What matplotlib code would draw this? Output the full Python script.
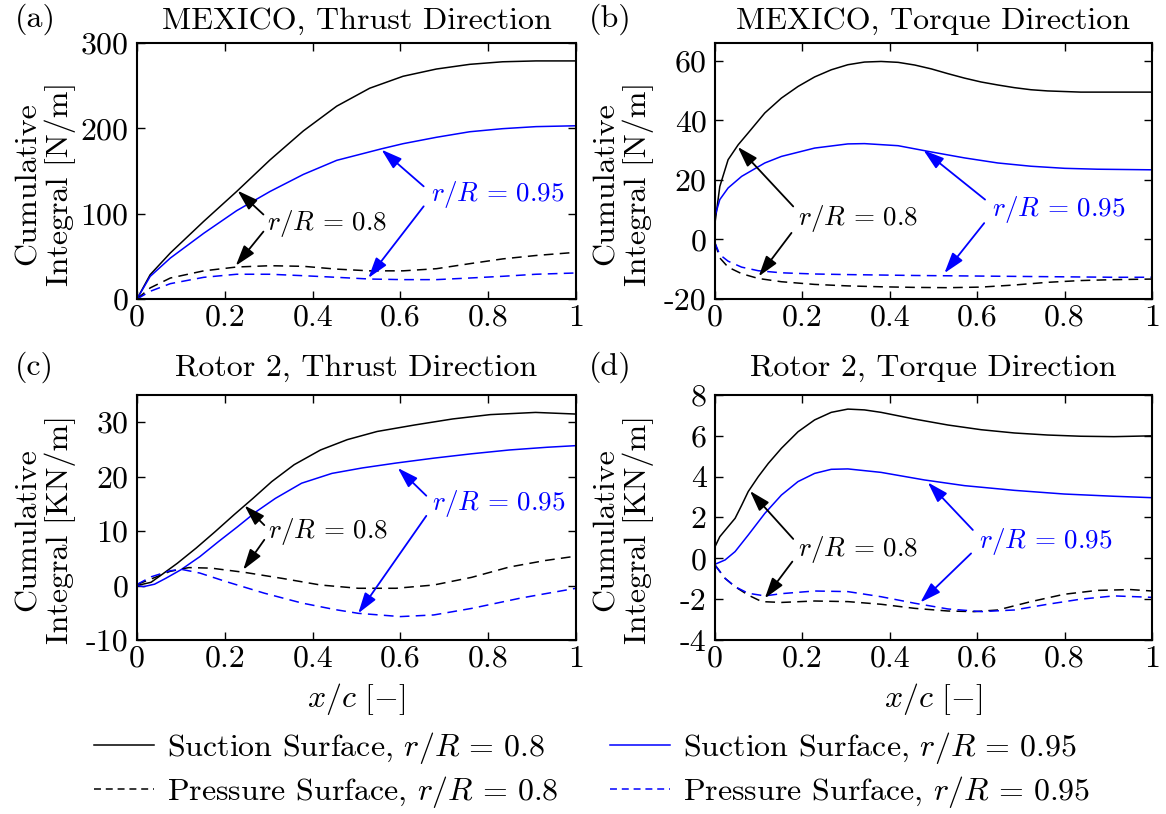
import matplotlib
matplotlib.use("Agg")
import matplotlib.pyplot as plt
from matplotlib.lines import Line2D

plt.rcParams["font.family"] = "serif"
plt.rcParams["font.serif"] = ["cmr10"]
plt.rcParams["mathtext.fontset"] = "cm"
plt.rcParams["axes.unicode_minus"] = False
plt.rcParams["lines.scale_dashes"] = False

# ---------------- data ----------------
# (a) MEXICO, thrust direction [N/m]
a_x_ss08 = [0, 0.03, 0.076, 0.152, 0.227, 0.303, 0.379, 0.455, 0.53, 0.606, 0.682, 0.758, 0.833, 0.909, 1.0]
a_ss08 = [0, 28.5, 54, 91, 126, 163, 197, 226, 247, 261, 269.5, 275, 278, 279, 279]
a_x_ss095 = [0, 0.03, 0.076, 0.152, 0.227, 0.303, 0.379, 0.455, 0.557, 0.606, 0.682, 0.758, 0.833, 0.909, 1.0]
a_ss095 = [0, 26.5, 48, 77, 103.5, 126, 146, 162.5, 176, 182, 189.5, 196, 199.6, 202, 203]
a_x_ps08 = [0, 0.03, 0.076, 0.152, 0.227, 0.303, 0.379, 0.455, 0.53, 0.606, 0.682, 0.758, 0.833, 0.909, 1.0]
a_ps08 = [0, 13, 24.6, 33, 37.5, 39, 38.3, 35, 33, 33, 35.5, 41.4, 47, 51, 54.7]
a_x_ps095 = [0, 0.03, 0.076, 0.152, 0.227, 0.303, 0.379, 0.455, 0.53, 0.606, 0.682, 0.758, 0.833, 0.909, 1.0]
a_ps095 = [0, 9, 18, 25.4, 29, 29, 27.3, 25.4, 23.4, 22.7, 22.7, 24.6, 26.6, 29, 30.5]

# (b) MEXICO, torque direction [N/m]
b_x_ss08 = [0, 0.011, 0.03, 0.053, 0.076, 0.114, 0.152, 0.19, 0.228, 0.266, 0.304, 0.342, 0.38,
            0.419, 0.457, 0.495, 0.533, 0.571, 0.609, 0.647, 0.685, 0.723, 0.761, 0.837, 0.913, 1.0]
b_ss08 = [5.6, 17.8, 26.8, 31.8, 35.8, 42.5, 47.5, 51.4, 54.6, 57, 58.7, 59.6, 59.8,
          59.5, 58.6, 57.3, 55.7, 54.2, 52.9, 51.9, 51, 50.3, 49.9, 49.5, 49.5, 49.5]
b_x_ss095 = [0, 0.011, 0.03, 0.061, 0.114, 0.152, 0.228, 0.304, 0.342, 0.419, 0.495, 0.571, 0.647, 0.723, 0.8, 0.875, 1.0]
b_ss095 = [7.8, 13.4, 17.3, 21.2, 25.7, 27.9, 30.7, 32.1, 32.2, 31.5, 29.4, 27.4, 25.7, 24.6, 23.9, 23.6, 23.4]
b_x_ps08 = [0, 0.011, 0.03, 0.061, 0.099, 0.152, 0.228, 0.304, 0.38, 0.457, 0.533, 0.609, 0.685, 0.761, 0.837, 0.913, 1.0]
b_ps08 = [-1.2, -6.2, -9.3, -11.5, -13.1, -14.2, -15.1, -15.6, -15.9, -16.1, -16.2, -16, -15.3, -14.4, -13.8, -13.5, -13.3]
b_x_ps095 = [0, 0.011, 0.03, 0.061, 0.099, 0.152, 0.228, 0.304, 0.457, 0.609, 0.761, 0.913, 1.0]
b_ps095 = [-1.2, -5.1, -7.3, -9.3, -10.5, -11.2, -11.6, -11.8, -12.1, -12.3, -12.5, -12.7, -12.7]

# (c) Rotor 2, thrust direction [KN/m]
c_x_ss08 = [0, 0.032, 0.058, 0.092, 0.135, 0.178, 0.221, 0.264, 0.307, 0.358, 0.418, 0.479, 0.547,
            0.633, 0.719, 0.805, 0.908, 1.0]
c_ss08 = [0, 0.6, 2.1, 4.1, 6.9, 9.9, 13, 16, 19.1, 22.2, 24.9, 26.8, 28.3, 29.5, 30.6, 31.4, 31.8, 31.5]
c_x_ss095 = [0, 0.015, 0.04, 0.066, 0.1, 0.143, 0.186, 0.229, 0.272, 0.315, 0.375, 0.444, 0.513,
             0.59, 0.676, 0.762, 0.848, 0.934, 1.0]
c_ss095 = [0, -0.2, 0.25, 1.35, 2.9, 5.3, 8.1, 10.8, 13.6, 16, 18.8, 20.6, 21.6, 22.5, 23.4, 24.2, 24.9, 25.4, 25.7]
c_x_ps08 = [0, 0.032, 0.075, 0.118, 0.169, 0.247, 0.332, 0.418, 0.504, 0.59, 0.676, 0.762, 0.848, 0.93, 1.0]
c_ps08 = [0.2, 1.2, 2.6, 3.3, 3.2, 2.4, 1.3, 0.1, -0.5, -0.5, 0.1, 1.5, 3.4, 4.6, 5.4]
c_x_ps095 = [0, 0.032, 0.075, 0.1, 0.143, 0.204, 0.29, 0.375, 0.45, 0.504, 0.6, 0.676, 0.762, 0.874, 1.0]
c_ps095 = [0.2, 1.6, 2.7, 3.0, 2.3, 0.7, -1.4, -3.2, -4.4, -5.1, -5.7, -5.4, -4.2, -2.3, -0.5]

# (d) Rotor 2, torque direction [KN/m]
d_x_ss08 = [0, 0.011, 0.03, 0.046, 0.061, 0.076, 0.099, 0.122, 0.152, 0.19, 0.228, 0.266, 0.304, 0.342,
            0.38, 0.457, 0.533, 0.609, 0.685, 0.761, 0.837, 0.913, 1.0]
d_ss08 = [0.57, 1.06, 1.55, 1.96, 2.6, 3.27, 4.0, 4.65, 5.39, 6.2, 6.78, 7.15, 7.31, 7.27,
          7.15, 6.82, 6.53, 6.3, 6.14, 6.04, 5.98, 5.96, 6.0]
d_x_ss095 = [0, 0.023, 0.046, 0.076, 0.114, 0.152, 0.19, 0.228, 0.266, 0.304, 0.38, 0.479, 0.571, 0.685, 0.799, 0.913, 1.0]
d_ss095 = [-0.29, -0.08, 0.33, 1.14, 2.2, 3.1, 3.76, 4.16, 4.36, 4.38, 4.21, 3.84, 3.56, 3.33, 3.15, 3.04, 2.97]
d_x_ps08 = [0, 0.023, 0.046, 0.076, 0.107, 0.152, 0.228, 0.304, 0.38, 0.457, 0.533, 0.594, 0.647, 0.723,
            0.799, 0.875, 0.951, 1.0]
d_ps08 = [-0.33, -0.98, -1.39, -1.8, -2.12, -2.16, -2.09, -2.12, -2.25, -2.45, -2.58, -2.61, -2.53, -2.12,
          -1.76, -1.57, -1.53, -1.6]
d_x_ps095 = [0, 0.023, 0.046, 0.076, 0.114, 0.152, 0.228, 0.304, 0.38, 0.457, 0.533, 0.609, 0.685, 0.761,
             0.837, 0.913, 1.0]
d_ps095 = [-0.33, -0.98, -1.39, -1.71, -1.84, -1.73, -1.6, -1.63, -1.88, -2.2, -2.48, -2.61, -2.53, -2.25,
           -2.0, -1.84, -1.91]

x_ticks = [0, 0.2, 0.4, 0.6, 0.8, 1]
x_tick_labels = ["0", "0.2", "0.4", "0.6", "0.8", "1"]
a_yticks = [0, 100, 200, 300]
a_yticklabels = ["0", "100", "200", "300"]
b_yticks = [-20, 0, 20, 40, 60]
b_yticklabels = ["-20", "0", "20", "40", "60"]
c_yticks = [-10, 0, 10, 20, 30]
c_yticklabels = ["-10", "0", "10", "20", "30"]
d_yticks = [-4, -2, 0, 2, 4, 6, 8]
d_yticklabels = ["-4", "-2", "0", "2", "4", "6", "8"]

titles = ["MEXICO, Thrust Direction", "MEXICO, Torque Direction",
          "Rotor 2, Thrust Direction", "Rotor 2, Torque Direction"]
panel_tags = ["(a)", "(b)", "(c)", "(d)"]
ylabels = ["Cumulative\nIntegral [N/m]", "Cumulative\nIntegral [N/m]",
           "Cumulative\nIntegral [KN/m]", "Cumulative\nIntegral [KN/m]"]
legend_labels = [r"Suction Surface, $r/R\,=\,0.8$", r"Pressure Surface, $r/R\,=\,0.8$",
                 r"Suction Surface, $r/R\,=\,0.95$", r"Pressure Surface, $r/R\,=\,0.95$"]
label_08 = r"$r/R\,=\,0.8$"
label_095 = r"$r/R\,=\,0.95$"

# ---------------- figure ----------------
W, H = 1166, 814
fig = plt.figure(figsize=(W / 100, H / 100), dpi=100)
FS = 23
FS_NOTE = 19.5
BLUE = "#0000ff"
LW = 1.1
DASH = (7, 4.5)


def px_axes(left, right, top, bottom):
    return fig.add_axes([left / W, 1 - bottom / H, (right - left) / W, (bottom - top) / H])


axes = [px_axes(137, 576, 43, 299), px_axes(715, 1152, 43, 299),
        px_axes(137, 576, 395, 640), px_axes(715, 1152, 395, 640)]

series = [
    (a_x_ss08, a_ss08, a_x_ss095, a_ss095, a_x_ps08, a_ps08, a_x_ps095, a_ps095),
    (b_x_ss08, b_ss08, b_x_ss095, b_ss095, b_x_ps08, b_ps08, b_x_ps095, b_ps095),
    (c_x_ss08, c_ss08, c_x_ss095, c_ss095, c_x_ps08, c_ps08, c_x_ps095, c_ps095),
    (d_x_ss08, d_ss08, d_x_ss095, d_ss095, d_x_ps08, d_ps08, d_x_ps095, d_ps095),
]
ylims = [(0, 300), (-20, 66), (-10, 35), (-4, 8)]
yticks = [(a_yticks, a_yticklabels), (b_yticks, b_yticklabels),
          (c_yticks, c_yticklabels), (d_yticks, d_yticklabels)]

# annotation layout per panel: text anchor, then arrow (start, end) pairs
notes = [
    dict(t08=(0.295, 89), a08=[((0.288, 99), (0.229, 127)), ((0.288, 79), (0.225, 39))],
         t095=(0.67, 122), a095=[((0.653, 132), (0.557, 175)), ((0.653, 108.6), (0.527, 24.6))]),
    dict(t08=(0.19, 6.9), a08=[((0.179, 11.1), (0.052, 31.1)), ((0.175, 2.2), (0.1, -12.4))],
         t095=(0.635, 10), a095=[((0.618, 13.4), (0.477, 30)), ((0.616, 5.5), (0.525, -11.3))]),
    dict(t08=(0.298, 9.9), a08=[((0.29, 11.1), (0.245, 14.7)), ((0.29, 8.4), (0.242, 2.9))],
         t095=(0.672, 15.1), a095=[((0.659, 16.5), (0.594, 21.6)), ((0.659, 12.8), (0.504, -5.1))]),
    dict(t08=(0.19, 0.41), a08=[((0.179, 0.95), (0.08, 3.3)), ((0.177, -0.16), (0.114, -1.96))],
         t095=(0.605, 0.82), a095=[((0.59, 1.39), (0.487, 3.72)), ((0.586, 0.24), (0.47, -2.16))]),
]

title_pads = [10.5, 10.5, 13.5, 13.5]
ARROW = "-|>,head_length=0.7,head_width=0.22"

for i, ax in enumerate(axes):
    xs1, ys1, xs2, ys2, xs3, ys3, xs4, ys4 = series[i]
    ax.plot(xs1, ys1, color="black", lw=LW)
    ax.plot(xs2, ys2, color=BLUE, lw=LW)
    ax.plot(xs3, ys3, color="black", lw=LW, dashes=DASH)
    ax.plot(xs4, ys4, color=BLUE, lw=LW, dashes=DASH)

    ax.set_xlim(0, 1)
    ax.set_ylim(*ylims[i])
    ax.set_xticks(x_ticks)
    ax.set_xticklabels(x_tick_labels)
    ax.set_yticks(yticks[i][0])
    ax.set_yticklabels(yticks[i][1])
    ax.tick_params(direction="in", top=True, right=True, length=6, width=1,
                   labelsize=FS, pad=4)
    ax.tick_params(axis="y", pad=6)
    for sp in ax.spines.values():
        sp.set_linewidth(1.5)

    ax.set_title(titles[i], fontsize=FS, pad=title_pads[i])
    ax.set_ylabel(ylabels[i], fontsize=FS, linespacing=1.1)
    ax.yaxis.set_label_coords(-0.14, 0.45)
    if i >= 2:
        ax.set_xlabel(r"$x/c\ [-]$", fontsize=FS, labelpad=6)

    n = notes[i]
    ax.text(n["t08"][0], n["t08"][1], label_08, fontsize=FS_NOTE, color="black",
            ha="left", va="center")
    ax.text(n["t095"][0], n["t095"][1], label_095, fontsize=FS_NOTE, color=BLUE,
            ha="left", va="center")
    for (start, end) in n["a08"]:
        ax.annotate("", xy=end, xytext=start,
                    arrowprops=dict(arrowstyle=ARROW, color="black", lw=1.3,
                                    shrinkA=0, shrinkB=0, mutation_scale=18))
    for (start, end) in n["a095"]:
        ax.annotate("", xy=end, xytext=start,
                    arrowprops=dict(arrowstyle=ARROW, color=BLUE, lw=1.3,
                                    shrinkA=0, shrinkB=0, mutation_scale=18))

# panel tags
tag_pos = [(15, 19), (589, 19), (15, 367), (589, 367)]
for tag, (tx, ty) in zip(panel_tags, tag_pos):
    fig.text(tx / W, 1 - ty / H, tag, fontsize=FS, ha="left", va="center")

# shared legend
handles = [Line2D([], [], color="black", lw=LW),
           Line2D([], [], color="black", lw=LW, dashes=(5, 3.5)),
           Line2D([], [], color=BLUE, lw=LW),
           Line2D([], [], color=BLUE, lw=LW, dashes=(5, 3.5))]
fig.legend(handles, legend_labels, loc="center", bbox_to_anchor=(592 / W, 1 - 770 / H),
           ncol=2, frameon=False, fontsize=FS, handlelength=1.9, handletextpad=0.4,
           columnspacing=1.6, labelspacing=0.25)

fig.savefig("out.png", dpi=100)
